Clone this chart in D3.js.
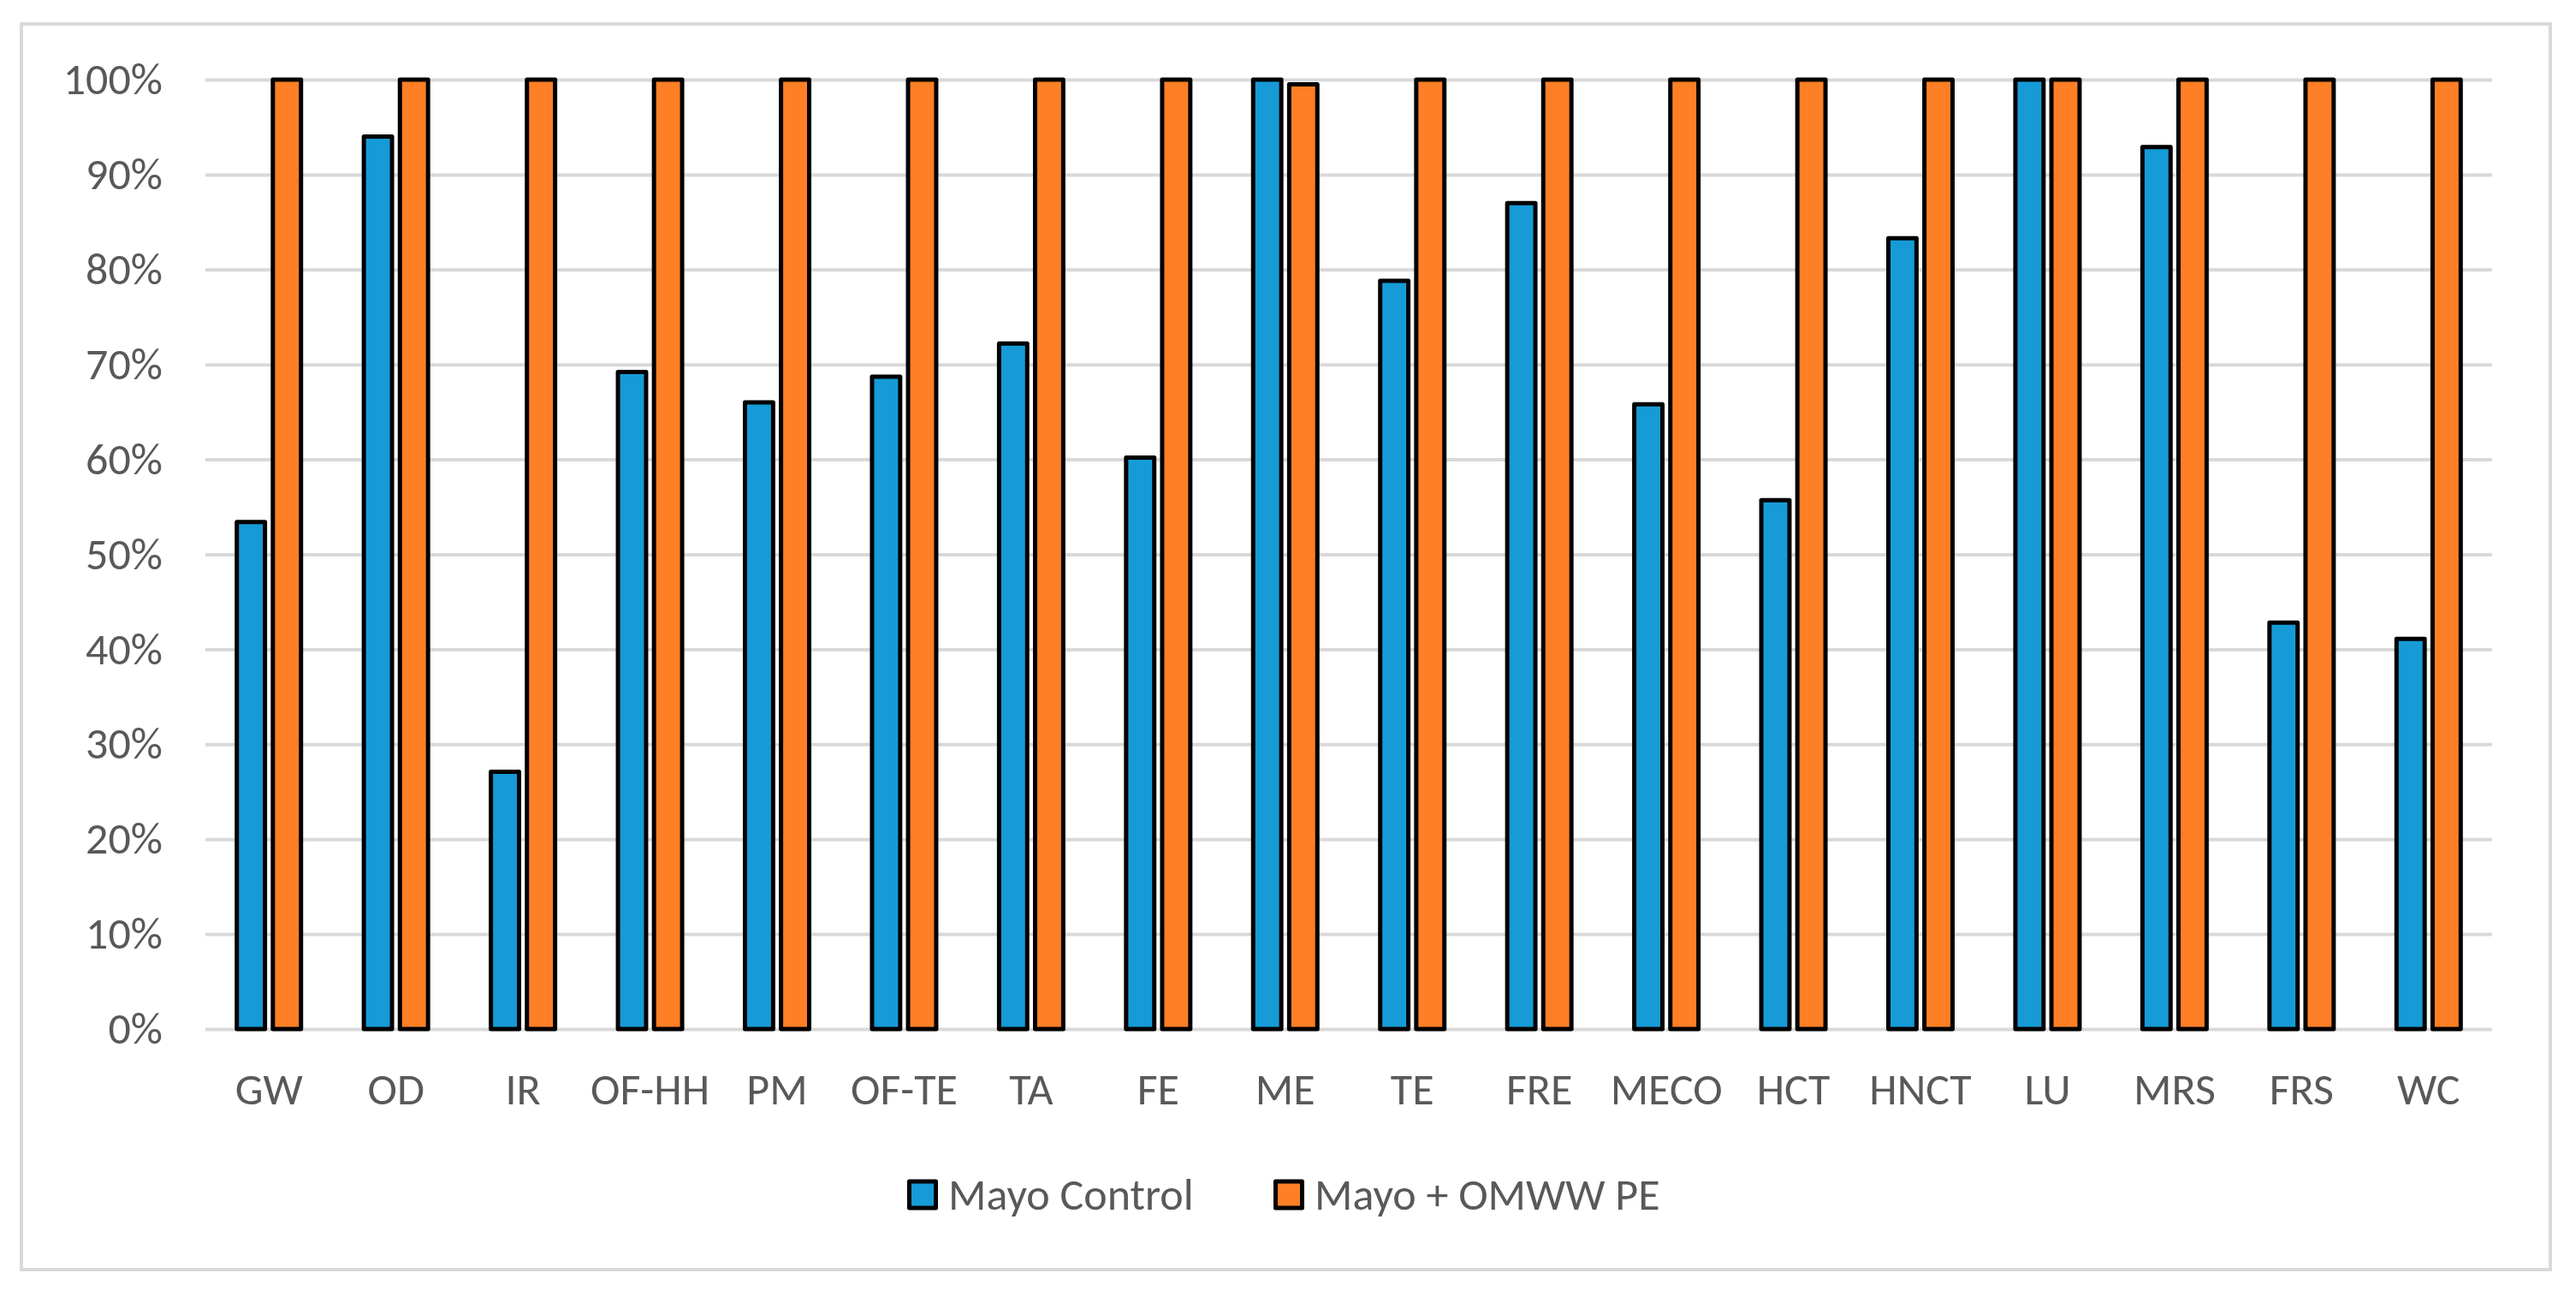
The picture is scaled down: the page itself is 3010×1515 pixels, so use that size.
<!DOCTYPE html>
<html>
<head>
<meta charset="utf-8">
<script src="https://cdn.jsdelivr.net/npm/d3@7"></script>
<style>
  body { margin: 0; background: #fff; }
  text { font-family: Carlito, Lato, "Open Sans", sans-serif; fill: #595959; }
</style>
</head>
<body>
<div id="chart"></div>
<script>
const categories = ['GW', 'OD', 'IR', 'OF-HH', 'PM', 'OF-TE', 'TA', 'FE', 'ME', 'TE',
  'FRE', 'MECO', 'HCT', 'HNCT', 'LU', 'MRS', 'FRS', 'WC']
const seriesNames = ['Mayo Control', 'Mayo + OMWW PE']
const mayoControl = [53.4, 94.0, 27.1, 69.2, 66.0, 68.7, 72.2, 60.2, 100, 78.8,
  87.0, 65.8, 55.7, 83.3, 100, 92.9, 42.8, 41.1]
const mayoOmww = [100, 100, 100, 100, 100, 100, 100, 100, 99.5, 100,
  100, 100, 100, 100, 100, 100, 100, 100]
const yTicks = [0, 10, 20, 30, 40, 50, 60, 70, 80, 90, 100]
const colors = ['#169bd7', '#fe7f25']

const params = {
  width: 3010,
  height: 1515,
  plotLeft: 240,
  plotRight: 2912,
  plotTop: 93,
  plotBottom: 1202,
  fontSize: 52,
}

const svg = d3.select('#chart')
  .append('svg')
  .attr('width', params.width)
  .attr('height', params.height)

// chart area border
svg.append('rect')
  .attr('x', 25)
  .attr('y', 28)
  .attr('width', 2955)
  .attr('height', 1455)
  .attr('fill', '#fff')
  .attr('stroke', '#d9d9d9')
  .attr('stroke-width', 4)

const x0 = d3.scaleBand()
  .domain(categories)
  .range([params.plotLeft, params.plotRight])

const x1 = d3.scaleBand()
  .domain(seriesNames)
  .range([-40, 40])
  .paddingInner(0.1)

const y = d3.scaleLinear()
  .domain([0, 100])
  .range([params.plotBottom, params.plotTop])

// gridlines + y labels
const yAxis = d3.axisLeft(y)
  .tickValues(yTicks)
  .tickFormat(d => d + '%')
  .tickSize(-(params.plotRight - params.plotLeft))
  .tickPadding(50)

const gy = svg.append('g')
  .attr('transform', `translate(${params.plotLeft},0)`)
  .call(yAxis)
gy.select('.domain').remove()
gy.selectAll('.tick line')
  .attr('stroke', '#d9d9d9')
  .attr('stroke-width', 4)
gy.selectAll('.tick text')
  .attr('font-size', params.fontSize)
  .attr('fill', '#595959')
  .style('font-family', 'Carlito, Lato, sans-serif')

// x labels
const xAxis = d3.axisBottom(x0).tickSize(0).tickPadding(0)
const gx = svg.append('g')
  .attr('transform', `translate(0,${params.plotBottom})`)
  .call(xAxis)
gx.select('.domain').remove()
gx.selectAll('.tick text')
  .attr('dy', null)
  .attr('y', 88)
  .attr('font-size', params.fontSize)
  .attr('fill', '#595959')
  .style('font-family', 'Carlito, Lato, sans-serif')

// bars
const rows = categories.map((c, i) => ({
  cat: c,
  values: [mayoControl[i], mayoOmww[i]]
}))

const groups = svg.append('g')
  .selectAll('g')
  .data(rows)
  .enter()
  .append('g')
  .attr('transform', d => `translate(${x0(d.cat) + x0.bandwidth() / 2},0)`)

groups.selectAll('rect')
  .data(d => d.values.map((v, j) => ({ name: seriesNames[j], value: v, j })))
  .enter()
  .append('rect')
  .attr('x', d => x1(d.name) + 2.5)
  .attr('width', x1.bandwidth() - 5)
  .attr('y', d => y(d.value))
  .attr('height', d => y(0) - y(d.value))
  .attr('fill', d => colors[d.j])
  .attr('stroke', '#000')
  .attr('stroke-width', 5)
  .attr('stroke-linejoin', 'round')

// legend
const legend = svg.append('g')
const legendItems = [
  { name: seriesNames[0], x: 1060 },
  { name: seriesNames[1], x: 1488 }
]
legendItems.forEach((d, i) => {
  legend.append('rect')
    .attr('x', d.x + 2.5)
    .attr('y', 1380)
    .attr('width', 31)
    .attr('height', 31)
    .attr('fill', colors[i])
    .attr('stroke', '#000')
    .attr('stroke-width', 5)
    .attr('stroke-linejoin', 'round')
  legend.append('text')
    .attr('x', d.x + 48)
    .attr('y', 1413)
    .attr('font-size', params.fontSize)
    .text(d.name)
})
</script>
</body>
</html>
